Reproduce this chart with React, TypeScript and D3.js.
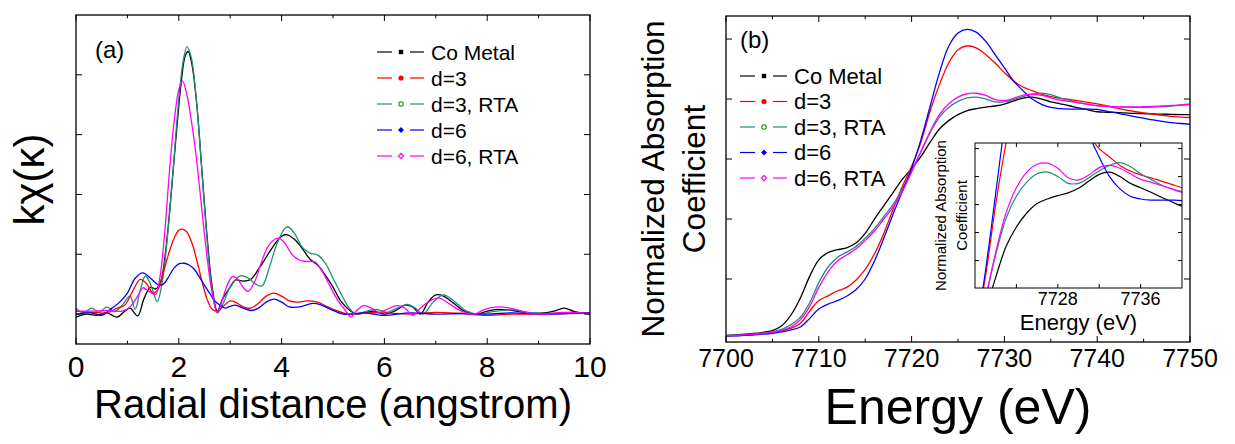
import React from "react";
import * as d3 from "d3";

const FONT = "'Liberation Sans', Arial, Helvetica, sans-serif";

// ---------- Panel (a): FT-EXAFS, radial distance (angstrom) vs k·chi ----------
const coMetalA: [number, number][] = [
  [0, -0.05], [0.2, 0.0], [0.4, -0.02], [0.6, 0.02], [0.8, -0.05], [0.95, 0.05], [1.05, 0.1], [1.2, -0.03],
  [1.32, 0.25], [1.45, 0.45], [1.55, 0.42], [1.65, 0.55], [1.75, 1.1], [1.85, 2.0], [1.95, 3.0], [2.05, 3.9],
  [2.12, 4.3], [2.18, 4.39], [2.25, 4.2], [2.35, 3.5], [2.45, 2.4], [2.55, 1.3], [2.65, 0.45], [2.75, 0.05],
  [2.85, 0.25], [3.0, 0.45], [3.1, 0.57], [3.25, 0.55], [3.4, 0.58], [3.55, 0.75], [3.7, 0.95], [3.85, 1.15],
  [4.0, 1.3], [4.1, 1.33], [4.25, 1.25], [4.4, 1.1], [4.55, 0.92], [4.7, 0.82], [4.85, 0.65], [5.0, 0.45],
  [5.15, 0.22], [5.3, 0.08], [5.45, 0.0], [5.6, 0.02], [5.8, 0.05], [6.0, 0.0], [6.2, 0.05], [6.4, 0.15],
  [6.55, 0.12], [6.7, 0.0], [6.85, 0.2], [7.0, 0.32], [7.15, 0.3], [7.35, 0.18], [7.55, 0.05], [7.8, 0.0],
  [8.0, 0.05], [8.2, 0.08], [8.5, 0.06], [8.8, 0.02], [9.1, 0.02], [9.3, 0.05], [9.5, 0.1], [9.7, 0.04], [10, 0.0],
];
const d3A: [number, number][] = [
  [0, 0.05], [0.3, 0.03], [0.6, 0.02], [0.8, 0.1], [0.95, 0.15], [1.1, 0.38], [1.25, 0.58], [1.38, 0.5],
  [1.5, 0.35], [1.6, 0.42], [1.7, 0.7], [1.8, 1.0], [1.9, 1.25], [2.0, 1.4], [2.07, 1.42], [2.15, 1.38],
  [2.25, 1.2], [2.35, 0.9], [2.45, 0.55], [2.55, 0.25], [2.65, 0.08], [2.75, 0.05], [2.85, 0.12], [3.0, 0.22],
  [3.1, 0.2], [3.25, 0.12], [3.4, 0.1], [3.55, 0.18], [3.7, 0.3], [3.85, 0.35], [4.0, 0.3], [4.15, 0.22],
  [4.3, 0.2], [4.5, 0.22], [4.7, 0.2], [4.9, 0.12], [5.1, 0.05], [5.3, 0.0], [5.6, 0.02], [6, 0.02],
  [6.5, 0.0], [7, 0.03], [7.5, 0.01], [8, -0.02], [8.5, 0.0], [9, 0.0], [10, 0.02],
];
const d3RtaA: [number, number][] = [
  [0, 0.1], [0.15, 0.02], [0.3, 0.1], [0.45, 0.03], [0.6, 0.12], [0.75, 0.04], [0.9, 0.15], [1.05, 0.3],
  [1.15, 0.08], [1.25, 0.4], [1.35, 0.64], [1.45, 0.5], [1.58, 0.21], [1.68, 0.55], [1.78, 1.3], [1.88, 2.3],
  [1.98, 3.4], [2.08, 4.2], [2.16, 4.47], [2.24, 4.3], [2.34, 3.6], [2.44, 2.5], [2.54, 1.35], [2.64, 0.45],
  [2.75, 0.02], [2.85, 0.15], [3.0, 0.45], [3.2, 0.64], [3.35, 0.6], [3.5, 0.5], [3.62, 0.47], [3.75, 0.75],
  [3.9, 1.15], [4.05, 1.42], [4.12, 1.46], [4.25, 1.35], [4.4, 1.12], [4.55, 1.02], [4.7, 0.99], [4.85, 0.85],
  [5.0, 0.6], [5.15, 0.35], [5.3, 0.12], [5.45, 0.0], [5.65, 0.05], [5.85, 0.08], [6.05, 0.03], [6.25, 0.1],
  [6.45, 0.16], [6.6, 0.1], [6.75, 0.0], [6.95, 0.2], [7.15, 0.32], [7.35, 0.22], [7.6, 0.05], [7.85, 0.0],
  [8.1, 0.04], [8.5, 0.07], [8.8, 0.03], [9.2, 0.01], [9.6, 0.03], [10, 0.02],
];
const d6A: [number, number][] = [
  [0, 0.0], [0.3, 0.02], [0.5, -0.02], [0.7, 0.1], [0.85, 0.2], [1.0, 0.35], [1.15, 0.6], [1.3, 0.69],
  [1.45, 0.6], [1.6, 0.49], [1.7, 0.5], [1.8, 0.62], [1.9, 0.76], [2.0, 0.84], [2.1, 0.85], [2.2, 0.82],
  [2.3, 0.75], [2.4, 0.62], [2.5, 0.48], [2.6, 0.35], [2.7, 0.22], [2.8, 0.15], [2.9, 0.1], [3.0, 0.13],
  [3.1, 0.15], [3.25, 0.1], [3.4, 0.06], [3.55, 0.1], [3.7, 0.2], [3.85, 0.25], [4.0, 0.2], [4.15, 0.12],
  [4.35, 0.12], [4.6, 0.18], [4.75, 0.16], [4.95, 0.08], [5.2, 0.0], [5.6, 0.02], [6.0, -0.02], [6.5, 0.02],
  [7.0, 0.0], [7.5, 0.01], [8.0, 0.0], [8.5, 0.02], [9, 0.0], [10, 0.02],
];
const d6RtaA: [number, number][] = [
  [0, 0.05], [0.3, 0.05], [0.6, 0.06], [0.9, 0.05], [1.05, 0.12], [1.2, 0.3], [1.3, 0.44], [1.42, 0.38],
  [1.55, 0.33], [1.63, 0.6], [1.72, 1.3], [1.82, 2.4], [1.92, 3.3], [2.0, 3.75], [2.07, 3.9], [2.15, 3.7],
  [2.25, 3.2], [2.33, 2.7], [2.43, 1.9], [2.53, 1.1], [2.63, 0.45], [2.75, 0.02], [2.85, 0.25], [2.95, 0.5],
  [3.05, 0.63], [3.15, 0.58], [3.25, 0.45], [3.35, 0.38], [3.48, 0.55], [3.6, 0.85], [3.75, 1.15], [3.93, 1.27],
  [4.05, 1.2], [4.2, 1.0], [4.35, 0.9], [4.5, 0.88], [4.65, 0.87], [4.8, 0.7], [4.95, 0.45], [5.1, 0.22],
  [5.25, 0.05], [5.35, -0.05], [5.45, 0.05], [5.6, 0.14], [5.75, 0.1], [5.9, 0.03], [6.05, 0.08], [6.25, 0.14],
  [6.4, 0.1], [6.55, -0.02], [6.7, 0.1], [6.85, 0.2], [7.05, 0.27], [7.25, 0.18], [7.5, 0.05], [7.75, 0.0],
  [7.95, 0.08], [8.2, 0.12], [8.45, 0.1], [8.7, 0.04], [9, 0.0], [9.5, 0.03], [10, 0.01],
];
const xTicksA = [0, 2, 4, 6, 8, 10];

// ---------- Panel (b): XANES, energy (eV) vs normalized absorption ----------
const energyB = d3.range(7700, 7751, 1);
const coMetalB = [
  0.015, 0.017, 0.02, 0.023, 0.028, 0.035, 0.055, 0.1, 0.17, 0.26,
  0.33, 0.36, 0.372, 0.38, 0.4, 0.44, 0.5, 0.555, 0.61, 0.665,
  0.71, 0.76, 0.82, 0.875, 0.91, 0.935, 0.952, 0.96, 0.966, 0.971,
  0.979, 0.992, 1.004, 1.008, 1.0, 0.988, 0.98, 0.972, 0.963, 0.955,
  0.947, 0.945, 0.944, 0.942, 0.94, 0.939, 0.938, 0.937, 0.936, 0.935, 0.935,
];
const d3B = [
  0.013, 0.014, 0.016, 0.018, 0.021, 0.026, 0.034, 0.045, 0.065, 0.115,
  0.16, 0.18, 0.2, 0.215, 0.245, 0.29, 0.355, 0.44, 0.54, 0.635,
  0.72, 0.82, 0.95, 1.06, 1.15, 1.205, 1.222, 1.212, 1.185, 1.15,
  1.11, 1.075, 1.05, 1.035, 1.02, 1.01, 1.003, 0.998, 0.992, 0.986,
  0.98, 0.972, 0.963, 0.955, 0.948, 0.942, 0.937, 0.932, 0.928, 0.925, 0.923,
];
const d3RtaB = [
  0.015, 0.016, 0.018, 0.02, 0.024, 0.03, 0.04, 0.06, 0.09, 0.15,
  0.235, 0.3, 0.34, 0.362, 0.385, 0.42, 0.46, 0.51, 0.56, 0.625,
  0.7, 0.78, 0.86, 0.925, 0.965, 0.99, 1.005, 1.008, 1.0, 0.988,
  0.988, 0.998, 1.01, 1.02, 1.025, 1.018, 1.005, 0.995, 0.985, 0.978,
  0.973, 0.97, 0.968, 0.966, 0.965, 0.965, 0.966, 0.968, 0.971, 0.974, 0.977,
];
const d6B = [
  0.012, 0.013, 0.015, 0.017, 0.02, 0.024, 0.03, 0.038, 0.05, 0.085,
  0.125, 0.145, 0.16, 0.178, 0.205, 0.25, 0.325, 0.42, 0.52, 0.615,
  0.71, 0.83, 0.97, 1.11, 1.22, 1.275, 1.29, 1.278, 1.24, 1.185,
  1.13, 1.075, 1.035, 1.0, 0.978, 0.965, 0.96, 0.958, 0.958, 0.958,
  0.957, 0.95, 0.942, 0.935, 0.927, 0.92, 0.913, 0.907, 0.902, 0.898, 0.895,
];
const d6RtaB = [
  0.014, 0.015, 0.017, 0.02, 0.023, 0.028, 0.036, 0.05, 0.08, 0.135,
  0.215, 0.28, 0.325, 0.35, 0.375, 0.41, 0.45, 0.5, 0.55, 0.615,
  0.695, 0.78, 0.865, 0.935, 0.98, 1.008, 1.022, 1.024, 1.015, 0.998,
  0.994, 1.003, 1.016, 1.02, 1.015, 1.005, 0.995, 0.99, 0.984, 0.978,
  0.972, 0.97, 0.968, 0.967, 0.967, 0.968, 0.969, 0.971, 0.973, 0.976, 0.979,
];
const xTicksB = [7700, 7710, 7720, 7730, 7740, 7750];
const xTicksInset = [7728, 7736];

const legendNames = ["Co Metal", "d=3", "d=3, RTA", "d=6", "d=6, RTA"];
const lineColors = ["#000000", "#ff0000", "#1f8f7a", "#0000ff", "#ff00ff"];
const markerColors = ["#000000", "#ff0000", "#129012", "#0000ff", "#ff00ff"];
const markerKinds = ["square", "dot", "ring", "diamond", "odiamond"];

type Frame = { l: number; r: number; t: number; b: number };

function Marker({ kind, x, y, color }: { kind: string; x: number; y: number; color: string }) {
  if (kind === "square") return <rect x={x - 2.2} y={y - 2.2} width={4.4} height={4.4} fill={color} />;
  if (kind === "dot") return <circle cx={x} cy={y} r={2.6} fill={color} />;
  if (kind === "ring") return <circle cx={x} cy={y} r={2.2} fill="white" stroke={color} strokeWidth={1.1} />;
  const s = 3;
  const pts = `${x},${y - s} ${x + s},${y} ${x},${y + s} ${x - s},${y}`;
  if (kind === "diamond") return <polygon points={pts} fill={color} />;
  return <polygon points={`${x},${y - 2.6} ${x + 2.6},${y} ${x},${y + 2.6} ${x - 2.6},${y}`} fill="white" stroke={color} strokeWidth={1.1} />;
}

function Legend({ x, y, dy, fs }: { x: number; y: number; dy: number; fs: number }) {
  return (
    <g>
      {legendNames.map((n, i) => {
        const yy = y + i * dy;
        return (
          <g key={n}>
            <line x1={x} x2={x + 15} y1={yy} y2={yy} stroke={lineColors[i]} strokeWidth={1.2} />
            <Marker kind={markerKinds[i]} x={x + 24} y={yy} color={markerColors[i]} />
            <line x1={x + 33} x2={x + 47} y1={yy} y2={yy} stroke={lineColors[i]} strokeWidth={1.2} />
            <text x={x + 54} y={yy} dominantBaseline="central" fontSize={fs} fontFamily={FONT}>{n}</text>
          </g>
        );
      })}
    </g>
  );
}

function Ticks({ f, xs, ys, len }: { f: Frame; xs: { px: number; major: boolean }[]; ys: number[]; len: number }) {
  const out: JSX.Element[] = [];
  xs.forEach((t, i) => {
    const L = t.major ? len : len * 0.55;
    out.push(<line key={"xb" + i} x1={t.px} x2={t.px} y1={f.b} y2={f.b - L} stroke="black" strokeWidth={1} />);
    out.push(<line key={"xt" + i} x1={t.px} x2={t.px} y1={f.t} y2={f.t + L} stroke="black" strokeWidth={1} />);
  });
  ys.forEach((py, i) => {
    out.push(<line key={"yl" + i} x1={f.l} x2={f.l + len} y1={py} y2={py} stroke="black" strokeWidth={1} />);
    out.push(<line key={"yr" + i} x1={f.r} x2={f.r - len} y1={py} y2={py} stroke="black" strokeWidth={1} />);
  });
  return <g>{out}</g>;
}

export default function App() {
  // Panel (a)
  const fa: Frame = { l: 76, r: 590, t: 15, b: 344 };
  const xa = d3.scaleLinear().domain([0, 10]).range([fa.l, fa.r]);
  const ya = d3.scaleLinear().domain([-0.5, 5]).range([fa.b, fa.t]);
  const lineA = d3.line<[number, number]>().x((d) => xa(d[0])).y((d) => ya(d[1])).curve(d3.curveCatmullRom.alpha(0.5));
  const seriesA = [
    { data: coMetalA, c: lineColors[0] },
    { data: d3RtaA, c: lineColors[2] },
    { data: d3A, c: lineColors[1] },
    { data: d6A, c: lineColors[3] },
    { data: d6RtaA, c: lineColors[4] },
  ];
  const xMinorA = d3.range(0, 11, 1).map((v) => ({ px: xa(v), major: v % 2 === 0 }));
  const yTicksA = [0, 1, 2, 3, 4].map((v) => ya(v));

  // Panel (b)
  const fb: Frame = { l: 726, r: 1190, t: 16, b: 342 };
  const xb = d3.scaleLinear().domain([7700, 7750]).range([fb.l, fb.r]);
  const yb = d3.scaleLinear().domain([-0.0125, 1.346]).range([fb.b, fb.t]);
  const seriesB = [
    { v: coMetalB, c: lineColors[0] },
    { v: d3B, c: lineColors[1] },
    { v: d3RtaB, c: lineColors[2] },
    { v: d6B, c: lineColors[3] },
    { v: d6RtaB, c: lineColors[4] },
  ];
  const lineB = (v: number[], sx: d3.ScaleLinear<number, number>, sy: d3.ScaleLinear<number, number>) =>
    d3.line<number>().x((_, i) => sx(energyB[i])).y((d) => sy(d)).curve(d3.curveCatmullRom.alpha(0.5))(v) || "";
  const xMinorB = d3.range(7700, 7751, 5).map((v) => ({ px: xb(v), major: v % 10 === 0 }));
  const yTicksB = [0.25, 0.5, 0.75, 1.0, 1.25].map((v) => yb(v));

  // Inset
  const fi: Frame = { l: 975, r: 1182, t: 143, b: 288 };
  const xi = d3.scaleLinear().domain([7720, 7740]).range([fi.l, fi.r]);
  const yi = d3.scaleLinear().domain([0.801, 1.06]).range([fi.b, fi.t]);
  const xTickI = d3.range(7724, 7737, 4).map((v) => ({ px: xi(v), major: true }));
  const yTickI = [0.85, 0.9, 0.95, 1.0, 1.05].map((v) => yi(v));

  return (
    <svg width={1235} height={444} style={{ position: "absolute", left: 0, top: 0, background: "white" }} fontFamily={FONT}>
      <defs>
        <clipPath id="clipA"><rect x={fa.l} y={fa.t} width={fa.r - fa.l} height={fa.b - fa.t} /></clipPath>
        <clipPath id="clipB"><rect x={fb.l} y={fb.t} width={fb.r - fb.l} height={fb.b - fb.t} /></clipPath>
        <clipPath id="clipI"><rect x={fi.l} y={fi.t} width={fi.r - fi.l} height={fi.b - fi.t} /></clipPath>
      </defs>
      <rect x={0} y={0} width={1235} height={444} fill="white" />

      {/* ---------- Panel (a) ---------- */}
      <g clipPath="url(#clipA)">
        {seriesA.map((s, i) => (
          <path key={i} d={lineA(s.data) || ""} fill="none" stroke={s.c} strokeWidth={1.3} />
        ))}
      </g>
      <rect x={fa.l} y={fa.t} width={fa.r - fa.l} height={fa.b - fa.t} fill="none" stroke="black" strokeWidth={1.3} />
      <Ticks f={fa} xs={xMinorA} ys={yTicksA} len={6} />
      {xTicksA.map((v) => (
        <text key={v} x={xa(v)} y={377} textAnchor="middle" fontSize={30}>{v}</text>
      ))}
      <text x={(fa.l + fa.r) / 2} y={418} textAnchor="middle" fontSize={40}>Radial distance (angstrom)</text>
      <text transform={`translate(44,${(fa.t + fa.b) / 2}) rotate(-90)`} textAnchor="middle" fontSize={42}>kχ(κ)</text>
      <text x={95} y={58} fontSize={24}>(a)</text>
      <Legend x={377} y={52} dy={26} fs={21} />

      {/* ---------- Panel (b) ---------- */}
      <g clipPath="url(#clipB)">
        {seriesB.map((s, i) => (
          <path key={i} d={lineB(s.v, xb, yb)} fill="none" stroke={s.c} strokeWidth={1.3} />
        ))}
      </g>
      <rect x={fb.l} y={fb.t} width={fb.r - fb.l} height={fb.b - fb.t} fill="none" stroke="black" strokeWidth={1.3} />
      <Ticks f={fb} xs={xMinorB} ys={yTicksB} len={6} />
      {xTicksB.map((v) => (
        <text key={v} x={xb(v)} y={367} textAnchor="middle" fontSize={25}>{v}</text>
      ))}
      <text x={(fb.l + fb.r) / 2} y={424} textAnchor="middle" fontSize={50}>Energy (eV)</text>
      <text transform={`translate(664,${(fb.t + fb.b) / 2}) rotate(-90)`} textAnchor="middle" fontSize={31.5}>Normalized Absorption</text>
      <text transform={`translate(705,${(fb.t + fb.b) / 2}) rotate(-90)`} textAnchor="middle" fontSize={31.5}>Coefficient</text>
      <text x={740} y={48} fontSize={24}>(b)</text>
      <Legend x={740} y={76} dy={25.5} fs={22} />

      {/* ---------- Inset ---------- */}
      <rect x={fi.l} y={fi.t} width={fi.r - fi.l} height={fi.b - fi.t} fill="white" />
      <g clipPath="url(#clipI)">
        {seriesB.map((s, i) => (
          <path key={i} d={lineB(s.v, xi, yi)} fill="none" stroke={s.c} strokeWidth={1.2} />
        ))}
      </g>
      <rect x={fi.l} y={fi.t} width={fi.r - fi.l} height={fi.b - fi.t} fill="none" stroke="black" strokeWidth={1} />
      <Ticks f={fi} xs={xTickI} ys={yTickI} len={4} />
      {xTicksInset.map((v) => (
        <text key={v} x={xi(v)} y={305} textAnchor="middle" fontSize={18}>{v}</text>
      ))}
      <text x={(fi.l + fi.r) / 2} y={330} textAnchor="middle" fontSize={22}>Energy (eV)</text>
      <text transform={`translate(946,${(fi.t + fi.b) / 2}) rotate(-90)`} textAnchor="middle" fontSize={15}>Normalized Absorption</text>
      <text transform={`translate(967,${(fi.t + fi.b) / 2}) rotate(-90)`} textAnchor="middle" fontSize={15}>Coefficient</text>
    </svg>
  );
}
